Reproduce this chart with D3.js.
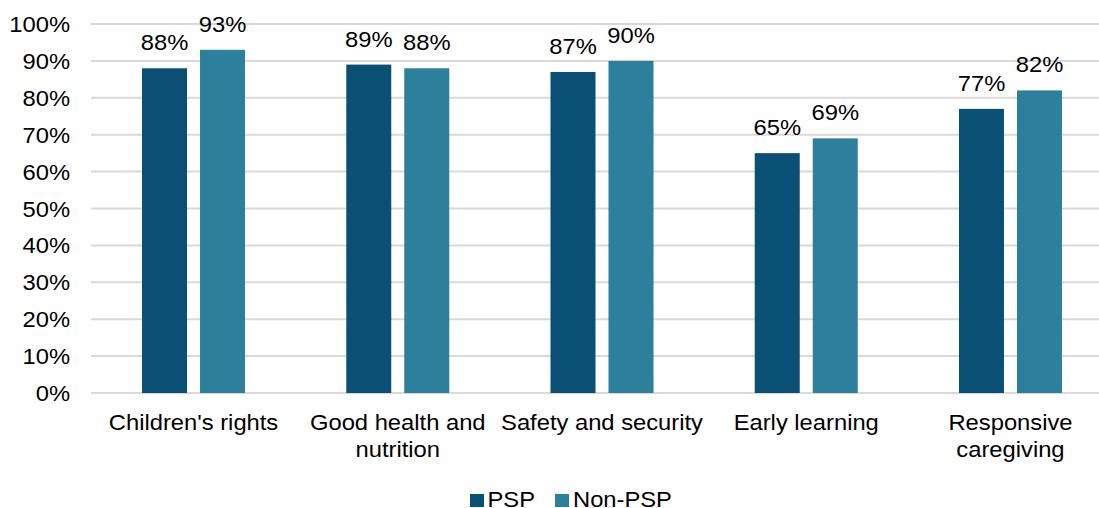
<!DOCTYPE html>
<html>
<head>
<meta charset="utf-8">
<script src="https://cdn.jsdelivr.net/npm/d3@7"></script>
<style>
  html, body { margin: 0; padding: 0; background: #ffffff; }
  svg { display: block; }
  text { font-family: "Liberation Sans", Arial, sans-serif; fill: #000000; }
</style>
</head>
<body>
<svg id="chart" width="1099" height="508"></svg>
<script>
// Share of respondents by topic, PSP vs Non-PSP
const categories = [
  ["Children's rights"],
  ["Good health and", "nutrition"],
  ["Safety and security"],
  ["Early learning"],
  ["Responsive", "caregiving"]
];
const seriesNames = ["PSP", "Non-PSP"];
const pspValues = [88, 89, 87, 65, 77];
const nonPspValues = [93, 88, 90, 69, 82];
const yTicks = [0, 10, 20, 30, 40, 50, 60, 70, 80, 90, 100];

const colors = { "PSP": "#0a5075", "Non-PSP": "#2c809b" };
const W = 1099, H = 508;
const FONT = 22, XSCALE = 1.08;

const svg = d3.select("#chart");
const catKeys = categories.map(c => c.join(" "));

const x0 = d3.scaleBand().domain(catKeys).range([91.4, 1112.6]).paddingInner(0).paddingOuter(0);
const groupWidth = 103;
const x1 = d3.scaleBand().domain(seriesNames)
  .range([(x0.bandwidth() - groupWidth) / 2, (x0.bandwidth() + groupWidth) / 2])
  .paddingInner(13 / 58).paddingOuter(0);
const y = d3.scaleLinear().domain([0, 100]).range([393, 24]);

// text helper: slightly widened glyphs
function label(parent, x, yy, str, anchor) {
  const g = parent.append("g").attr("transform", `translate(${x},${yy}) scale(${XSCALE},1)`);
  g.append("text").attr("text-anchor", anchor).style("font-size", FONT + "px").text(str);
  return g;
}

// gridlines
svg.append("g").selectAll("line").data(yTicks).join("line")
  .attr("x1", 91).attr("x2", W)
  .attr("y1", d => y(d)).attr("y2", d => y(d))
  .attr("stroke", "#d9d9d9").attr("stroke-width", 2);

// y-axis tick labels
const yAxis = svg.append("g");
yTicks.forEach(t => label(yAxis, 70, y(t) + 8, t + "%", "end"));

// bars
const rows = catKeys.map((k, i) => ({ key: k, lines: categories[i], values: [
  { s: "PSP", v: pspValues[i] }, { s: "Non-PSP", v: nonPspValues[i] }
]}));

const groups = svg.append("g").selectAll("g").data(rows).join("g")
  .attr("transform", d => `translate(${x0(d.key)},0)`);

groups.selectAll("rect").data(d => d.values).join("rect")
  .attr("x", d => x1(d.s)).attr("width", x1.bandwidth())
  .attr("y", d => y(d.v)).attr("height", d => y(0) - y(d.v))
  .attr("fill", d => colors[d.s]);

// value labels
groups.each(function(d) {
  const g = d3.select(this);
  d.values.forEach(v => label(g, x1(v.s) + x1.bandwidth() / 2, y(v.v) - 18, v.v + "%", "middle"));
});

// category labels
const xAxis = svg.append("g");
rows.forEach(r => {
  const cx = x0(r.key) + x0.bandwidth() / 2;
  r.lines.forEach((ln, j) => label(xAxis, cx, 430 + j * 26.5, ln, "middle"));
});

// legend
const legend = svg.append("g");
const legendItems = [
  { s: "PSP", sq: 470, tx: 487.5 },
  { s: "Non-PSP", sq: 555, tx: 573 }
];
legendItems.forEach(it => {
  legend.append("rect").attr("x", it.sq).attr("y", 494).attr("width", 14).attr("height", 13)
    .attr("fill", colors[it.s]);
  label(legend, it.tx, 507, it.s, "start");
});
</script>
</body>
</html>
